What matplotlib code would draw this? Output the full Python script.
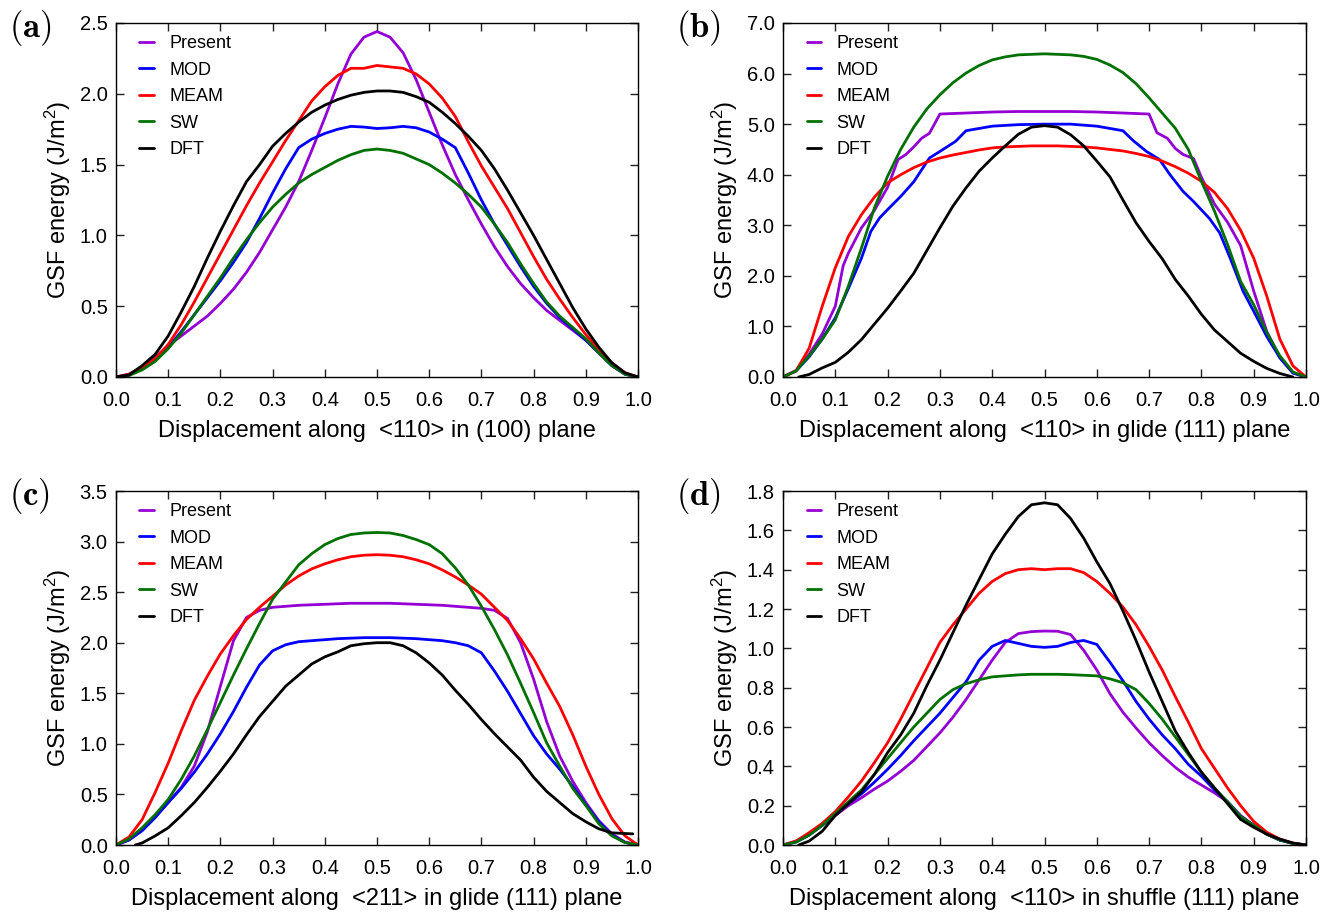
import numpy as np
import matplotlib
matplotlib.use("Agg")
import matplotlib.pyplot as plt
from matplotlib.ticker import MultipleLocator, FormatStrFormatter

plt.rcParams['font.family'] = ['Liberation Sans', 'DejaVu Sans']
plt.rcParams['mathtext.fontset'] = 'cm'

# ---------------- data ----------------
X_GRID = [round(0.025 * i, 3) for i in range(41)]
LABELS = ["Present", "MOD", "MEAM", "SW", "DFT"]
COLORS = ["#9400D3", "#0000FF", "#FF0000", "#007000", "#000000"]

# panel (a): <110> in (100) plane
a_present = [0, 0.02, 0.07, 0.14, 0.22, 0.29, 0.36, 0.43, 0.52, 0.62, 0.74, 0.88, 1.04, 1.20, 1.38, 1.60,
             1.83, 2.07, 2.28, 2.40, 2.44, 2.40, 2.29, 2.10, 1.87, 1.64, 1.43, 1.25, 1.08, 0.92, 0.78,
             0.66, 0.56, 0.47, 0.40, 0.33, 0.26, 0.17, 0.08, 0.02, 0]
a_mod = [0, 0.015, 0.06, 0.13, 0.21, 0.32, 0.44, 0.56, 0.68, 0.81, 0.95, 1.12, 1.30, 1.47, 1.62, 1.68,
         1.72, 1.75, 1.77, 1.765, 1.755, 1.76, 1.77, 1.76, 1.73, 1.68, 1.62, 1.44, 1.25, 1.08, 0.93,
         0.78, 0.64, 0.52, 0.42, 0.34, 0.26, 0.17, 0.08, 0.02, 0]
a_meam = [0, 0.02, 0.065, 0.13, 0.23, 0.37, 0.53, 0.70, 0.87, 1.04, 1.21, 1.37, 1.52, 1.67, 1.81, 1.95,
          2.05, 2.13, 2.18, 2.18, 2.20, 2.19, 2.18, 2.14, 2.07, 1.97, 1.84, 1.66, 1.49, 1.34, 1.19,
          1.02, 0.85, 0.69, 0.55, 0.42, 0.30, 0.19, 0.10, 0.03, 0]
a_sw = [0, 0.01, 0.05, 0.11, 0.20, 0.31, 0.44, 0.57, 0.70, 0.84, 0.97, 1.09, 1.20, 1.29, 1.37, 1.43,
        1.48, 1.53, 1.57, 1.60, 1.61, 1.60, 1.58, 1.54, 1.50, 1.44, 1.37, 1.29, 1.20, 1.08, 0.95,
        0.80, 0.66, 0.53, 0.43, 0.35, 0.27, 0.17, 0.08, 0.02, 0]
a_dft = [0, 0.015, 0.08, 0.16, 0.29, 0.46, 0.64, 0.84, 1.03, 1.21, 1.38, 1.50, 1.63, 1.72, 1.80, 1.87,
         1.92, 1.96, 1.99, 2.01, 2.02, 2.02, 2.01, 1.98, 1.94, 1.87, 1.79, 1.70, 1.60, 1.47, 1.32,
         1.16, 1.00, 0.83, 0.66, 0.49, 0.34, 0.21, 0.10, 0.03, 0]

# panel (b): <110> in glide (111) plane
b_present_x = [0, 0.025, 0.05, 0.075, 0.1, 0.115, 0.125, 0.15, 0.175, 0.2, 0.22, 0.235, 0.25, 0.265,
               0.28, 0.3, 0.35, 0.4, 0.45, 0.5, 0.55, 0.6, 0.65, 0.7, 0.715, 0.735, 0.75, 0.765,
               0.785, 0.8, 0.825, 0.85, 0.875, 0.9, 0.925, 0.95, 0.975, 1.0]
b_present = [0, 0.13, 0.45, 0.85, 1.4, 2.2, 2.45, 2.95, 3.3, 3.75, 4.3, 4.4, 4.55, 4.72, 4.82, 5.2,
             5.22, 5.24, 5.25, 5.25, 5.25, 5.24, 5.22, 5.2, 4.83, 4.72, 4.52, 4.4, 4.32, 3.95, 3.42,
             3.06, 2.6, 1.7, 0.9, 0.38, 0.08, 0]
b_mod_x = [0, 0.025, 0.05, 0.075, 0.1, 0.125, 0.15, 0.168, 0.185, 0.2, 0.225, 0.25, 0.28, 0.3, 0.33,
           0.35, 0.4, 0.45, 0.5, 0.55, 0.6, 0.65, 0.67, 0.695, 0.72, 0.74, 0.765, 0.785, 0.815, 0.835,
           0.855, 0.88, 0.9, 0.925, 0.95, 0.975, 1.0]
b_mod = [0, 0.12, 0.4, 0.75, 1.17, 1.75, 2.35, 2.88, 3.15, 3.31, 3.57, 3.86, 4.33, 4.46, 4.66, 4.87,
         4.96, 4.99, 5.0, 5.0, 4.96, 4.87, 4.67, 4.46, 4.3, 4.0, 3.67, 3.47, 3.14, 2.85, 2.35, 1.69,
         1.3, 0.8, 0.38, 0.08, 0]
b_meam = [0, 0.12, 0.57, 1.4, 2.16, 2.78, 3.21, 3.56, 3.84, 4.0, 4.14, 4.25, 4.33, 4.39, 4.44, 4.49,
          4.53, 4.55, 4.56, 4.57, 4.57, 4.57, 4.56, 4.55, 4.53, 4.5, 4.47, 4.42, 4.36, 4.27, 4.16,
          4.03, 3.87, 3.65, 3.33, 2.9, 2.35, 1.6, 0.75, 0.22, 0]
b_sw = [0, 0.12, 0.42, 0.75, 1.13, 1.8, 2.55, 3.35, 3.97, 4.5, 4.94, 5.3, 5.58, 5.82, 6.01, 6.16,
        6.27, 6.33, 6.37, 6.38, 6.39, 6.38, 6.37, 6.34, 6.28, 6.17, 6.02, 5.8, 5.52, 5.22, 4.92,
        4.5, 3.87, 3.28, 2.62, 1.89, 1.43, 0.88, 0.42, 0.1, 0]
b_dft_x = [0.03, 0.05, 0.075, 0.1, 0.125, 0.15, 0.175, 0.2, 0.225, 0.25, 0.275, 0.3, 0.325, 0.35,
           0.375, 0.4, 0.425, 0.45, 0.475, 0.5, 0.525, 0.55, 0.575, 0.6, 0.625, 0.65, 0.675, 0.7,
           0.725, 0.75, 0.775, 0.8, 0.825, 0.85, 0.875, 0.9, 0.925, 0.95, 0.975]
b_dft = [0, 0.05, 0.18, 0.29, 0.49, 0.74, 1.05, 1.36, 1.7, 2.05, 2.5, 2.95, 3.38, 3.74, 4.07, 4.33,
         4.57, 4.8, 4.94, 4.97, 4.94, 4.79, 4.57, 4.27, 3.96, 3.5, 3.05, 2.68, 2.34, 1.93, 1.6,
         1.24, 0.93, 0.7, 0.47, 0.31, 0.17, 0.07, 0.0]

# panel (c): <211> in glide (111) plane
c_present = [0, 0.05, 0.15, 0.28, 0.42, 0.57, 0.78, 1.12, 1.57, 2.02, 2.25, 2.32, 2.35, 2.36, 2.37,
             2.375, 2.38, 2.385, 2.39, 2.39, 2.39, 2.39, 2.385, 2.38, 2.375, 2.37, 2.36, 2.35, 2.34,
             2.32, 2.24, 2.0, 1.64, 1.22, 0.88, 0.63, 0.42, 0.24, 0.11, 0.03, 0]
c_mod = [0, 0.05, 0.14, 0.27, 0.42, 0.56, 0.72, 0.9, 1.1, 1.32, 1.56, 1.78, 1.92, 1.98, 2.01, 2.02,
         2.03, 2.04, 2.045, 2.05, 2.05, 2.05, 2.045, 2.04, 2.03, 2.02, 2.0, 1.97, 1.9, 1.72, 1.52,
         1.3, 1.08, 0.9, 0.75, 0.58, 0.4, 0.23, 0.1, 0.025, 0]
c_meam = [0, 0.08, 0.25, 0.52, 0.81, 1.13, 1.43, 1.67, 1.89, 2.07, 2.23, 2.35, 2.46, 2.57, 2.66, 2.73,
          2.78, 2.82, 2.85, 2.865, 2.87, 2.865, 2.85, 2.82, 2.78, 2.72, 2.65, 2.57, 2.48, 2.35, 2.22,
          2.04, 1.84, 1.6, 1.37, 1.09, 0.78, 0.5, 0.26, 0.09, 0]
c_sw = [0, 0.06, 0.17, 0.3, 0.45, 0.65, 0.88, 1.14, 1.41, 1.68, 1.94, 2.19, 2.43, 2.6, 2.77, 2.88,
        2.97, 3.03, 3.07, 3.085, 3.09, 3.085, 3.06, 3.02, 2.97, 2.88, 2.74, 2.57, 2.36, 2.13, 1.88,
        1.6, 1.31, 1.01, 0.78, 0.56, 0.39, 0.21, 0.09, 0.025, 0]
c_dft_x = [0.037, 0.05, 0.075, 0.1, 0.125, 0.15, 0.175, 0.2, 0.225, 0.25, 0.275, 0.3, 0.325, 0.35,
           0.375, 0.4, 0.425, 0.45, 0.475, 0.5, 0.525, 0.55, 0.575, 0.6, 0.625, 0.65, 0.675, 0.7,
           0.725, 0.75, 0.775, 0.8, 0.825, 0.85, 0.875, 0.9, 0.925, 0.95, 0.99]
c_dft = [0, 0.02, 0.09, 0.17, 0.29, 0.42, 0.57, 0.73, 0.9, 1.09, 1.27, 1.42, 1.57, 1.68, 1.79, 1.86,
         1.91, 1.97, 1.99, 2.0, 2.0, 1.97, 1.9, 1.8, 1.68, 1.53, 1.39, 1.24, 1.1, 0.97, 0.84, 0.67,
         0.53, 0.42, 0.31, 0.23, 0.16, 0.12, 0.11]

# panel (d): <110> in shuffle (111) plane
d_present = [0, 0.02, 0.055, 0.1, 0.15, 0.2, 0.24, 0.285, 0.325, 0.375, 0.43, 0.5, 0.57, 0.65, 0.74,
             0.84, 0.94, 1.03, 1.075, 1.085, 1.088, 1.087, 1.07, 0.99, 0.89, 0.77, 0.675, 0.595,
             0.52, 0.455, 0.395, 0.345, 0.305, 0.265, 0.22, 0.15, 0.1, 0.055, 0.025, 0.008, 0]
d_mod = [0, 0.015, 0.05, 0.1, 0.16, 0.21, 0.26, 0.32, 0.385, 0.455, 0.53, 0.6, 0.67, 0.75, 0.83, 0.94,
         1.01, 1.04, 1.025, 1.01, 1.005, 1.01, 1.03, 1.04, 1.02, 0.93, 0.835, 0.73, 0.64, 0.56,
         0.49, 0.41, 0.35, 0.28, 0.22, 0.145, 0.1, 0.055, 0.025, 0.008, 0]
d_meam = [0, 0.02, 0.063, 0.11, 0.17, 0.245, 0.325, 0.42, 0.52, 0.64, 0.77, 0.9, 1.03, 1.12, 1.2,
          1.28, 1.34, 1.38, 1.4, 1.405, 1.4, 1.405, 1.405, 1.385, 1.34, 1.28, 1.21, 1.12, 1.01,
          0.89, 0.755, 0.625, 0.49, 0.39, 0.29, 0.2, 0.12, 0.065, 0.03, 0.01, 0]
d_sw = [0, 0.015, 0.05, 0.1, 0.16, 0.22, 0.28, 0.36, 0.44, 0.52, 0.6, 0.67, 0.74, 0.79, 0.82, 0.84,
        0.855, 0.86, 0.865, 0.868, 0.868, 0.868, 0.866, 0.863, 0.86, 0.845, 0.825, 0.79, 0.72,
        0.64, 0.55, 0.46, 0.37, 0.29, 0.22, 0.145, 0.1, 0.055, 0.025, 0.008, 0]
d_dft_x = [0.03, 0.05, 0.075, 0.1, 0.125, 0.15, 0.175, 0.2, 0.225, 0.25, 0.275, 0.3, 0.325, 0.35,
           0.375, 0.4, 0.425, 0.45, 0.475, 0.5, 0.525, 0.55, 0.575, 0.6, 0.625, 0.65, 0.675, 0.7,
           0.725, 0.75, 0.775, 0.8, 0.825, 0.85, 0.875, 0.9, 0.925, 0.95, 0.975, 1.0]
d_dft = [0, 0.02, 0.07, 0.15, 0.21, 0.27, 0.36, 0.47, 0.56, 0.67, 0.81, 0.94, 1.08, 1.22, 1.35, 1.48,
         1.58, 1.67, 1.73, 1.74, 1.73, 1.66, 1.56, 1.44, 1.33, 1.19, 1.04, 0.88, 0.73, 0.58, 0.47,
         0.37, 0.29, 0.21, 0.13, 0.09, 0.055, 0.03, 0.01, 0]

PANELS = [
    dict(tag="(a)", xlabel="Displacement along  <110> in (100) plane", ymax=2.5, ystep=0.5,
         series=[(X_GRID, a_present), (X_GRID, a_mod), (X_GRID, a_meam), (X_GRID, a_sw), (X_GRID, a_dft)]),
    dict(tag="(b)", xlabel="Displacement along  <110> in glide (111) plane", ymax=7.0, ystep=1.0,
         series=[(b_present_x, b_present), (b_mod_x, b_mod), (X_GRID, b_meam), (X_GRID, b_sw), (b_dft_x, b_dft)]),
    dict(tag="(c)", xlabel="Displacement along  <211> in glide (111) plane", ymax=3.5, ystep=0.5,
         series=[(X_GRID, c_present), (X_GRID, c_mod), (X_GRID, c_meam), (X_GRID, c_sw), (c_dft_x, c_dft)]),
    dict(tag="(d)", xlabel="Displacement along  <110> in shuffle (111) plane", ymax=1.8, ystep=0.2,
         series=[(X_GRID, d_present), (X_GRID, d_mod), (X_GRID, d_meam), (X_GRID, d_sw), (d_dft_x, d_dft)]),
]

# ---------------- figure ----------------
W, H = 1333, 913
fig = plt.figure(figsize=(W / 100, H / 100), dpi=100)

boxes = [(116, 23, 638, 377), (783, 23, 1306, 377), (116, 491, 638, 845), (783, 491, 1306, 845)]

for p, (l, t, r, b) in zip(PANELS, boxes):
    ax = fig.add_axes([l / W, 1 - b / H, (r - l) / W, (b - t) / H])
    for (xs, ys), lab, col in zip(p["series"], LABELS, COLORS):
        ax.plot(xs, ys, color=col, lw=2.0, label=lab, solid_joinstyle='round', solid_capstyle='round')
    ax.set_xlim(0, 1.0)
    ax.set_ylim(0, p["ymax"])
    ax.xaxis.set_major_locator(MultipleLocator(0.1))
    ax.yaxis.set_major_locator(MultipleLocator(p["ystep"]))
    ax.xaxis.set_major_formatter(FormatStrFormatter('%.1f'))
    ax.yaxis.set_major_formatter(FormatStrFormatter('%.1f'))
    ax.tick_params(direction='in', top=True, right=True, length=6, width=1,
                   labelsize=14.5, colors='#222222', labelcolor='black')
    ax.tick_params(axis='x', pad=10)
    ax.tick_params(axis='y', pad=6)
    for s in ax.spines.values():
        s.set_linewidth(1.0)
    ax.set_xlabel(p["xlabel"], fontsize=17, labelpad=7)
    ax.set_ylabel("GSF energy (J/m$\\mathregular{^2}$)", fontsize=17, labelpad=5)
    ax.legend(loc='upper left', bbox_to_anchor=(0.045, 0.965), frameon=False, fontsize=13,
              handlelength=0.8, handletextpad=0.85, labelspacing=0.52, borderpad=0, borderaxespad=0)
    fig.text((l - 107) / W, 1 - (t + 5) / H, "$\\mathbf{" + p["tag"] + "}$", fontsize=25,
             ha='left', va='center')

fig.savefig("out.png", dpi=100)
